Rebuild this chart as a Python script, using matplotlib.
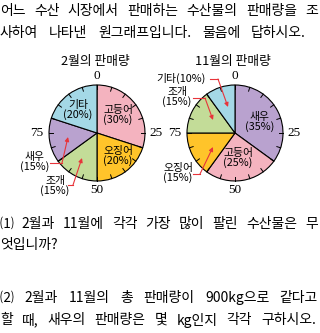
import matplotlib
matplotlib.use('Agg')
import matplotlib.pyplot as plt
import numpy as np

plt.rcParams['font.family'] = ['Noto Sans CJK KR', 'DejaVu Sans']

# 2월 판매량 (시계방향, 0에서 시작)
feb_labels = ['고등어', '오징어', '조개', '새우', '기타']
feb_values = [30, 20, 15, 15, 20]
# 11월 판매량
nov_labels = ['새우', '고등어', '오징어', '조개', '기타']
nov_values = [35, 25, 15, 15, 10]
scale_labels = ['0', '25', '50', '75']

colors = {'고등어': '#F4B3BF', '오징어': '#FFC42A', '조개': '#C3DC98',
          '새우': '#B9A2CF', '기타': '#A4D8E6'}

# (문장, y, 양쪽 맞춤 폭)
lines = [('어느 수산 시장에서 판매하는 수산물의 판매량을 조', 11, 318),
         ('사하여 나타낸 원그래프입니다. 물음에 답하시오.', 33, 306),
         ('⑴ 2월과 11월에 각각 가장 많이 팔린 수산물은 무', 224, 318),
         ('엇입니까?', 245, None),
         ('⑵ 2월과 11월의 총 판매량이 900kg으로 같다고', 298, 318),
         ('할 때, 새우의 판매량은 몇 kg인지 각각 구하시오.', 320, 316)]

RED = '#E8343A'
R = 48

fig = plt.figure(figsize=(3.2, 3.33), dpi=100)
ax = fig.add_axes([0, 0, 1, 1])


def draw_pie(cx, cy, title, labels, values, inside, outside):
    # y축이 뒤집혀 있으므로 counterclock=True 가 화면에서는 시계방향
    ax.pie(values, colors=[colors[l] for l in labels], center=(cx, cy),
           radius=R, startangle=-90, counterclock=True, frame=True,
           wedgeprops=dict(edgecolor='black', linewidth=0.8))
    # 눈금 (5% 간격)
    for k in range(20):
        a = np.deg2rad(-90 + k * 18)
        ax.plot([cx + R * np.cos(a), cx + (R - 4) * np.cos(a)],
                [cy + R * np.sin(a), cy + (R - 4) * np.sin(a)],
                color='black', lw=0.7)
    # 눈금 숫자
    offs = [(0, -R - 9), (R + 11, 0), (0, R + 9), (-R - 12, 0)]
    for s, (dx, dy) in zip(scale_labels, offs):
        ax.text(cx + dx, cy + dy, s, ha='center', va='center',
                fontsize=9.5, family='Liberation Serif')
    ax.text(cx - 2, 61, title, ha='center', va='center', fontsize=9.2)
    for name, (x, y) in inside.items():
        v = values[labels.index(name)]
        ax.text(x, y, f'{name}\n({v}%)', ha='center', va='center',
                fontsize=7.8, linespacing=1.0)
    for name, (x, y, one_line, path) in outside.items():
        v = values[labels.index(name)]
        s = f'{name}({v}%)' if one_line else f'{name}\n({v}%)'
        ax.text(x, y, s, ha='center', va='center', fontsize=7.8,
                linespacing=1.0)
        (x0, y0), (x1, y1), (x2, y2) = path
        ax.plot([x0, x1], [y0, y1], color=RED, lw=0.8)
        ax.annotate('', xy=(x2, y2), xytext=(x1, y1),
                    arrowprops=dict(arrowstyle='-|>', color=RED, lw=0.8,
                                    mutation_scale=6, shrinkA=0, shrinkB=0))


draw_pie(97, 133, '2월의 판매량', feb_labels, feb_values,
         {'기타': (78, 110), '고등어': (118, 115), '오징어': (118, 156)},
         {'새우': (35, 162, False, [(50, 163), (62, 163), (68, 137)]),
          '조개': (55, 186, False, [(68, 185), (73, 185), (82, 158)])})

draw_pie(235, 133, '11월의 판매량', nov_labels, nov_values,
         {'새우': (260, 122), '고등어': (238, 158)},
         {'기타': (181, 78, True, [(210, 79), (218, 79), (228, 107)]),
          '조개': (177, 97, False, [(193, 98), (205, 98), (213, 120)]),
          '오징어': (178, 173, False, [(193, 174), (200, 174), (213, 147)])})

ax.set_xlim(0, 320)
ax.set_ylim(333, 0)
ax.set_aspect('equal')
ax.axis('off')

# 본문 글자 크기: 첫 줄 낱말 폭 합이 약 268px 이 되도록
renderer = fig.canvas.get_renderer()
base = 10
probe = [ax.text(0, 0, w, fontsize=base) for w in lines[0][0].split(' ')]
tot = sum(t.get_window_extent(renderer).width for t in probe)
for t in probe:
    t.remove()
fs = base * 268 / tot

# 본문: 낱말 단위로 배치해 양쪽 맞춤
for text, y, width in lines:
    ts = [ax.text(0, y, w, ha='left', va='center', fontsize=fs)
          for w in text.split(' ')]
    ws = [t.get_window_extent(renderer).width for t in ts]
    gap = 5 if width is None else (width - sum(ws)) / (len(ts) - 1)
    x = 0
    for t, w in zip(ts, ws):
        t.set_x(x)
        x += w + gap

fig.savefig('out.png', dpi=100)
